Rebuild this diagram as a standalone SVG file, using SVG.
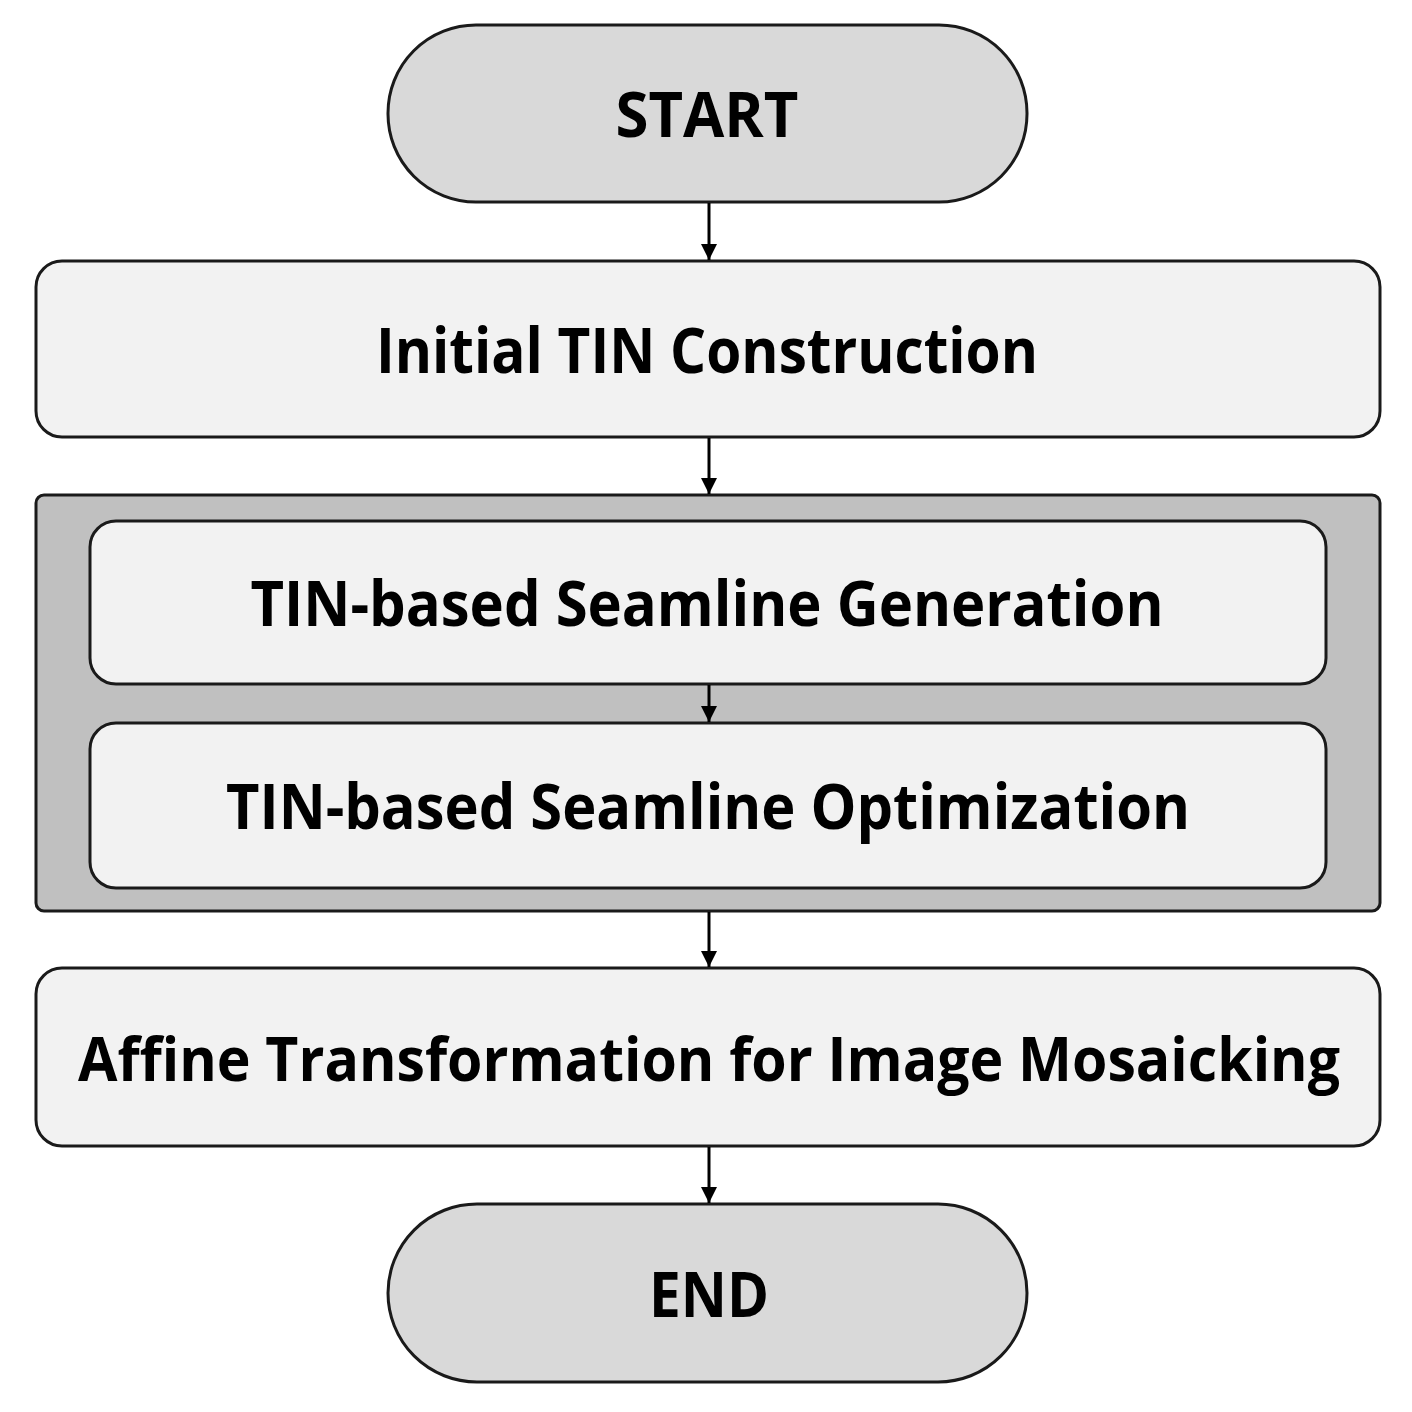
<svg xmlns="http://www.w3.org/2000/svg" width="1412" height="1412" viewBox="0 0 1412 1412">
<style>
.term{fill:#d9d9d9;stroke:#1a1a1a;stroke-width:3}
.box{fill:#f2f2f2;stroke:#1a1a1a;stroke-width:3}
.grp{fill:#c0c0c0;stroke:#1a1a1a;stroke-width:3}
.lbl{font-family:"Open Sans","Liberation Sans",sans-serif;font-weight:bold;font-size:62px;fill:#000;text-anchor:middle}
.conn{stroke:#000;stroke-width:3;fill:none;marker-end:url(#ah)}
</style>
<defs>
<marker id="ah" viewBox="0 0 10 10" refX="10" refY="5" markerUnits="userSpaceOnUse" markerWidth="16" markerHeight="18" orient="auto">
<path d="M0,0 L10,5 L0,10 Z" fill="#000"/>
</marker>
</defs>
<rect width="1412" height="1412" fill="#fff"/>
<g id="start">
<rect class="term" x="388" y="25" width="639" height="177" rx="88" ry="88"/>
<text class="lbl" x="707" y="137" textLength="183" lengthAdjust="spacingAndGlyphs">START</text>
</g>
<g id="initial">
<rect class="box" x="36" y="261" width="1344" height="176" rx="26"/>
<text class="lbl" x="707" y="373" textLength="662" lengthAdjust="spacingAndGlyphs">Initial TIN Construction</text>
</g>
<g id="group">
<rect class="grp" x="36" y="495" width="1344" height="416" rx="8"/>
</g>
<g id="generation">
<rect class="box" x="90" y="521" width="1236" height="163" rx="26"/>
<text class="lbl" x="707" y="626" textLength="913" lengthAdjust="spacingAndGlyphs">TIN-based Seamline Generation</text>
</g>
<g id="optimization">
<rect class="box" x="90" y="723" width="1236" height="165" rx="26"/>
<text class="lbl" x="708" y="829" textLength="964" lengthAdjust="spacingAndGlyphs">TIN-based Seamline Optimization</text>
</g>
<g id="affine">
<rect class="box" x="36" y="968" width="1344" height="178" rx="26"/>
<text class="lbl" x="709" y="1081" style="font-size:60px" textLength="1262" lengthAdjust="spacingAndGlyphs">Affine Transformation for Image Mosaicking</text>
</g>
<g id="end">
<rect class="term" x="388" y="1204" width="639" height="178" rx="89" ry="89"/>
<text class="lbl" x="709" y="1317" textLength="120" lengthAdjust="spacingAndGlyphs">END</text>
</g>
<g id="connectors">
<line class="conn" x1="709" y1="203" x2="709" y2="260"/>
<line class="conn" x1="709" y1="438" x2="709" y2="494"/>
<line class="conn" x1="709" y1="685" x2="709" y2="722"/>
<line class="conn" x1="709" y1="912" x2="709" y2="967"/>
<line class="conn" x1="709" y1="1147" x2="709" y2="1203"/>
</g>
</svg>
